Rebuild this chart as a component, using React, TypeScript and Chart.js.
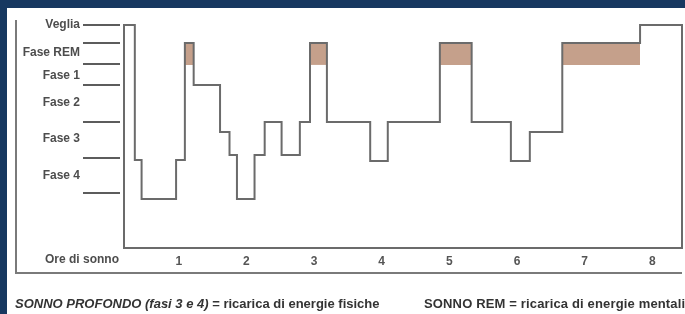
import React, { useEffect, useRef } from "react";
import { Chart, registerables } from "chart.js";

Chart.register(...registerables);

// x: hours of sleep
const hourTicks = [1, 2, 3, 4, 5, 6, 7, 8];
const hourMin = 0.19;
const hourMax = 8.44;

// y: stage labels (value = height of the label on a 0-100 scale)
const stageNames = ["Fase 4", "Fase 3", "Fase 2", "Fase 1", "Fase REM", "Veglia"];
const stageLabelLevels = [32.3, 48.9, 65.0, 77.1, 87.4, 100];
const stageBoundaryLevels = [24.7, 40.4, 56.5, 73.1, 82.5, 91.9, 100];

// hypnogram (stepped: each level holds from its hour to the next)
const sleepHours = [0.19, 0.35, 0.45, 0.96, 1.09, 1.22, 1.61, 1.75, 1.86, 2.12, 2.27, 2.52, 2.79, 2.94, 3.19, 3.83, 4.09, 4.86, 5.33, 5.91, 6.19, 6.67, 7.82, 8.44];
const sleepLevels = [100, 39.5, 22, 39.5, 91.9, 73.1, 52, 41.7, 22, 41.7, 56.5, 41.7, 56.5, 91.9, 56.5, 39, 56.5, 91.9, 56.5, 39, 52, 91.9, 100, 0];

// REM periods (shaded)
const remStart = [1.09, 2.94, 4.86, 6.67];
const remEnd = [1.22, 3.19, 5.33, 7.82];
const remTop = 91.9;
const remBottom = 82.1;

const FONT = '"Liberation Sans", Arial, sans-serif';

const decorPlugin = {
  id: "decor",
  beforeDraw(chart: any) {
    const { ctx, chartArea, scales } = chart;
    ctx.save();
    ctx.strokeStyle = "#7a7a7a";
    ctx.lineWidth = 2;
    ctx.beginPath();
    ctx.moveTo(16, 20);
    ctx.lineTo(16, 273);
    ctx.lineTo(682, 273);
    ctx.stroke();
    ctx.strokeStyle = "#5c5c5c";
    stageBoundaryLevels.forEach((v) => {
      const y = Math.round(scales.y.getPixelForValue(v));
      ctx.beginPath();
      ctx.moveTo(chartArea.left - 41, y);
      ctx.lineTo(chartArea.left - 4, y);
      ctx.stroke();
    });
    ctx.fillStyle = "#4d4d4d";
    ctx.font = `bold 12px ${FONT}`;
    ctx.textAlign = "right";
    ctx.textBaseline = "middle";
    ctx.fillText("Ore di sonno", chartArea.left - 5, chartArea.bottom + 12);
    ctx.restore();
  },
};

export default function App() {
  const ref = useRef<HTMLCanvasElement>(null);

  useEffect(() => {
    document.body.style.margin = "0";
    const datasets: any[] = [
      {
        type: "line",
        data: sleepHours.map((x, i) => ({ x, y: sleepLevels[i] })),
        stepped: "before",
        borderColor: "#6b6b6b",
        borderWidth: 2,
        pointRadius: 0,
        fill: false,
        clip: false,
        order: 0,
      },
    ];
    remStart.forEach((s, i) => {
      datasets.push({
        type: "line",
        data: [
          { x: s, y: remTop },
          { x: remEnd[i], y: remTop },
        ],
        borderWidth: 0,
        borderColor: "rgba(0,0,0,0)",
        backgroundColor: "#c5a08b",
        pointRadius: 0,
        fill: { value: remBottom },
        order: 1,
      });
    });

    const chart = new Chart(ref.current!, {
      type: "line",
      data: { datasets },
      plugins: [decorPlugin],
      options: {
        animation: false,
        responsive: false,
        devicePixelRatio: 1,
        layout: { padding: { top: 25, right: 3, left: 0, bottom: 0 } },
        plugins: { legend: { display: false }, tooltip: { enabled: false } },
        scales: {
          x: {
            type: "linear",
            min: hourMin,
            max: hourMax,
            afterBuildTicks: (scale: any) => {
              scale.ticks = hourTicks.map((v) => ({ value: v }));
            },
            afterFit: (scale: any) => {
              scale.height = 66;
            },
            grid: { display: false, drawTicks: false },
            border: { display: true, color: "#6b6b6b", width: 2 },
            ticks: {
              padding: 6,
              color: "#555",
              font: { family: FONT, size: 12, weight: "bold" },
              callback: (v: any) => String(v),
              maxRotation: 0,
              autoSkip: false,
            },
          },
          y: {
            type: "linear",
            min: 0,
            max: 100,
            afterBuildTicks: (scale: any) => {
              scale.ticks = stageLabelLevels.map((v) => ({ value: v }));
            },
            afterFit: (scale: any) => {
              scale.width = 124;
              scale.paddingTop = 0;
              scale.paddingBottom = 0;
            },
            grid: { display: false, drawTicks: false },
            border: { display: true, color: "#6b6b6b", width: 2 },
            ticks: {
              padding: 44,
              color: "#4d4d4d",
              font: { family: FONT, size: 12, weight: "bold" },
              callback: (_v: any, i: number) => stageNames[i],
              autoSkip: false,
            },
          },
        },
      } as any,
    });
    return () => chart.destroy();
  }, []);

  const footStyle: React.CSSProperties = {
    position: "absolute",
    top: 296,
    fontFamily: FONT,
    fontWeight: "bold",
    fontSize: 13,
    lineHeight: "15px",
    color: "#333",
    whiteSpace: "nowrap",
  };

  return (
    <div style={{ position: "relative", width: 685, height: 314, background: "#fff", overflow: "hidden" }}>
      <canvas ref={ref} width={685} height={314} style={{ position: "absolute", left: 0, top: 0 }} />
      <div style={{ position: "absolute", left: 0, top: 0, width: 685, height: 8, background: "#173860" }} />
      <div style={{ position: "absolute", left: 0, top: 0, width: 7, height: 314, background: "#173860" }} />
      <div style={{ ...footStyle, left: 15 }}>
        <span style={{ fontStyle: "italic" }}>SONNO PROFONDO (fasi 3 e 4)</span> = ricarica di energie fisiche
      </div>
      <div style={{ ...footStyle, left: 424, letterSpacing: "0.15px" }}>SONNO REM = ricarica di energie mentali</div>
    </div>
  );
}
